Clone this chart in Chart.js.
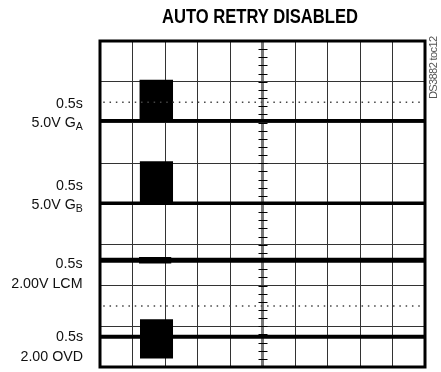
<!DOCTYPE html>
<html>
<head>
<meta charset="utf-8">
<script src="https://cdn.jsdelivr.net/npm/chart.js@4/dist/chart.umd.min.js"></script>
<style>
  body { margin: 0; background: #fff; }
  #wrap { position: relative; width: 441px; height: 372px; overflow: hidden; }
  #myChart { position: absolute; left: 0; top: 0; }
  .title { position: absolute; left: 110px; top: 5px; width: 300px; text-align: center;
    font-family: "Liberation Sans", Arial, sans-serif; font-weight: bold;
    font-size: 21px; line-height: 21px; color: #000; white-space: nowrap;
    transform: scaleX(0.79); transform-origin: 150px 0; }
  .lbl { position: absolute; right: 358px; text-align: right; white-space: nowrap;
    font-family: "Liberation Sans", Arial, sans-serif; font-size: 15.5px; line-height: 20px; color: #111;
    transform: scaleX(0.92); transform-origin: right top; }
  .lbl sub { font-size: 11.5px; vertical-align: -3px; line-height: 0; }
  .code { position: absolute; left: 428px; top: 41px; height: 58px; width: 11px;
    writing-mode: vertical-rl; transform: rotate(180deg);
    font-family: "Liberation Sans", Arial, sans-serif; font-size: 11px; line-height: 11px;
    color: #555; white-space: nowrap; letter-spacing: -0.6px; }
</style>
</head>
<body>
<div id="wrap">
  <canvas id="myChart" width="441" height="372"></canvas>
  <div class="title">AUTO RETRY DISABLED</div>
  <div class="code">DS3882 toc12</div>
  <div class="lbl" style="top:93px; line-height:19px">0.5s<br>5.0V G<sub>A</sub></div>
  <div class="lbl" style="top:175px; line-height:19px">0.5s<br>5.0V G<sub>B</sub></div>
  <div class="lbl" style="top:253px">0.5s<br>2.00V LCM</div>
  <div class="lbl" style="top:326px">0.5s<br>2.00 OVD</div>
</div>
<script>
// screen in divisions: 10 across, 8 down
const xDivs = 10;
const yDivs = 8;

// one entry per trace: GA, GB, LCM, OVD
const traceNames = ['GA', 'GB', 'LCM', 'OVD'];
const traceLevels = [6.04, 4.02, 2.62, 0.74];
const pulseStart = [1.21, 1.22, 1.2, 1.23];
const pulseEnd = [2.25, 2.25, 2.2, 2.25];
const pulseTop = [7.05, 5.05, 2.70, 1.17];
const pulseBottom = [6.04, 4.02, 2.54, 0.21];
const traceWidth = [3.5, 3.5, 5, 4];

// dotted reference levels
const dottedLevels = [6.5, 1.5];

var datasets = [];

dottedLevels.forEach(lvl => {
    datasets.push({
        data: [{x: 0.1, y: lvl}, {x: xDivs, y: lvl}],
        borderColor: '#444',
        borderWidth: 1.5,
        borderDash: [1.5, 4.8],
        pointRadius: 0
    });
});

traceNames.forEach((name, i) => {
    // the burst block
    datasets.push({
        label: name + ' pulse',
        data: [{x: pulseStart[i], y: pulseTop[i]}, {x: pulseEnd[i], y: pulseTop[i]}],
        borderWidth: 0,
        borderColor: '#000',
        backgroundColor: '#000',
        fill: {value: pulseBottom[i]},
        pointRadius: 0
    });
    datasets.push({
        label: name,
        data: [{x: 0, y: traceLevels[i]}, {x: xDivs, y: traceLevels[i]}],
        borderColor: '#000',
        borderWidth: traceWidth[i],
        pointRadius: 0
    });
});

// frame + minor ticks on the centre line
const scopePlugin = {
    id: 'scope',
    afterDatasetsDraw(chart) {
        const ctx = chart.ctx;
        const a = chart.chartArea;
        const xs = chart.scales.x, ys = chart.scales.y;
        ctx.save();
        ctx.strokeStyle = '#000';
        ctx.lineWidth = 1;
        const cx = Math.round(xs.getPixelForValue(xDivs / 2)) - 0.5;
        for (let k = 0; k <= yDivs * 5; k++) {
            const py = Math.round(ys.getPixelForValue(k / 5)) + 0.5;
            ctx.beginPath();
            ctx.moveTo(cx - 4, py);
            ctx.lineTo(cx + 5, py);
            ctx.stroke();
        }
        ctx.lineWidth = 3;
        ctx.strokeRect(a.left, a.top, a.right - a.left, a.bottom - a.top);
        ctx.restore();
    }
};

new Chart('myChart', {
    type: 'line',
    data: {datasets: datasets},
    options: {
        responsive: false,
        animation: false,
        devicePixelRatio: 1,
        layout: {padding: {left: 100, top: 41, right: 16, bottom: 5}},
        plugins: {legend: {display: false}, tooltip: {enabled: false}},
        scales: {
            x: {
                type: 'linear', min: 0, max: xDivs,
                ticks: {display: false, stepSize: 1},
                border: {display: false},
                grid: {
                    drawTicks: false,
                    color: ctx => ctx.tick && ctx.tick.value === xDivs / 2 ? '#777' : '#333',
                    lineWidth: ctx => ctx.tick && ctx.tick.value === xDivs / 2 ? 3 : 1
                }
            },
            y: {
                type: 'linear', min: 0, max: yDivs,
                ticks: {display: false, stepSize: 1},
                border: {display: false},
                grid: {drawTicks: false, color: '#333', lineWidth: 1}
            }
        }
    },
    plugins: [scopePlugin]
});
</script>
</body>
</html>
